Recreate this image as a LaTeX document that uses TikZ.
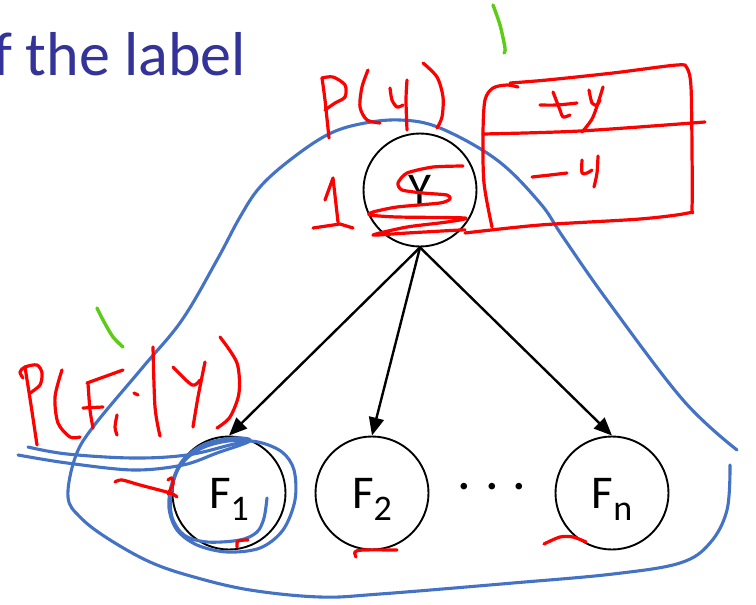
\documentclass[tikz,border=0pt]{standalone}
\usepackage{fontspec}
\setmainfont{Carlito}
\usetikzlibrary{arrows.meta}
\definecolor{titleblue}{RGB}{51,51,153}
\definecolor{inkblue}{RGB}{68,114,196}
\definecolor{inkred}{RGB}{255,0,0}
\definecolor{inkgreen}{RGB}{92,204,20}
\newcommand{\subtxt}[1]{\smash{\raisebox{-12pt}{\fontsize{36}{36}\selectfont #1}}}
\begin{document}
\begin{tikzpicture}[x=1pt,y=-1pt,
  varnode/.style={draw=black, line width=1.9pt, circle, minimum size=113pt, inner sep=0pt, font=\fontsize{47}{47}\selectfont},
  edge/.style={line width=2.4pt, -{Triangle[length=18pt,width=15pt]}},
  redink/.style={draw=inkred, line width=3.2pt, line cap=round, line join=round},
  blueink/.style={draw=inkblue, line width=3.1pt, line cap=round, line join=round},
  greenink/.style={draw=inkgreen, line width=3.4pt, line cap=round, line join=round},
]
\useasboundingbox (0,0) rectangle (756,605);

% slide content
\node[anchor=base east, inner sep=0pt, text=titleblue, font=\fontsize{62}{62}\selectfont] (title) at (246,75) {of the label};
\node[varnode] (Y) at (420,190) {Y};
\node[varnode] (F1) at (229,493) {F\subtxt{1}};
\node[varnode] (F2) at (372,493) {F\subtxt{2}};
\node[varnode] (Fn) at (612,493) {F\subtxt{n}};
\node[inner sep=0pt, font=\fontsize{46}{46}\selectfont] (dots) at (492,491) {·\hspace{16pt}·\hspace{16pt}·};
\draw[edge] (Y.south) -- (F1.north);
\draw[edge] (Y.south) -- (F2.north);
\draw[edge] (Y.south) -- (Fn.north);

% blue ink
\draw[blueink] plot[smooth, tension=0.6] coordinates {(737,450) (683,400) (607,300) (563,237) (540,203) (497,160) (440,128) (400,120) (360,124) (327,135) (290,160) (260,187) (240,217) (217,260) (182,320) (143,367) (93,427) (75,458) (68,497) (80,517) (107,538) (150,562) (194,577) (250,590) (320,597) (380,594) (513,583) (613,574) (680,563) (710,543) (727,510) (730,465)};
\draw[blueink] plot[smooth, tension=0.6] coordinates {(28,447) (67,454) (133,458) (187,455) (230,445) (250,440)};
\draw[blueink] plot[smooth, tension=0.55] coordinates {(18,455) (67,463) (133,470) (183,465) (217,453) (250,441) (235,438) (205,444) (183,460) (172,483) (169,508) (177,530) (197,545) (227,552) (260,548) (283,530) (295,500) (294,470) (282,452) (258,442) (228,441) (200,449) (180,466) (171,492) (172,517) (184,535) (207,542) (240,540) (257,532) (264,518) (267,498)};

% red ink: P(y)
\draw[redink] plot[smooth] coordinates {(322,78) (325,100) (329,138)};
\draw[redink] plot[smooth] coordinates {(322,78) (333,77) (345,85) (345,97) (335,103) (325,110)};
\draw[redink] plot[smooth] coordinates {(368,70) (362,87) (360,107) (367,120) (380,123)};
\draw[redink] plot[smooth] coordinates {(390,88) (392,100) (397,107) (403,105)};
\draw[redink] plot[smooth] coordinates {(407,80) (406,100) (407,130)};
\draw[redink] plot[smooth] coordinates {(423,63) (437,77) (443,97) (442,117) (437,128)};
% "1"
\draw[redink] (325,200) -- (333,178) -- (338,222);
\draw[redink] (313,228) -- (340,224) -- (353,228);
% scribble in Y
\draw[redink] plot[smooth, tension=0.4] coordinates {(463,166) (433,167) (407,173) (398,183) (402,190) (423,193) (447,195) (450,199) (440,203) (397,207) (373,212) (370,215) (397,217) (465,218) (447,222) (407,227) (373,235) (407,233) (460,230) (465,230)};
% table box
\draw[redink] plot[smooth] coordinates {(518,87) (507,85) (493,88) (485,100) (483,133) (484,183) (492,227)};
\draw[redink] plot[smooth, tension=0.5] coordinates {(510,83) (547,80) (613,73) (677,65) (687,68) (691,87) (692,150) (692,207) (688,213) (640,219) (540,225) (465,233)};
\draw[redink] plot[smooth] coordinates {(483,134) (580,131) (705,122)};
\draw[redink] plot[smooth] coordinates {(540,105) (557,105) (577,103)};
\draw[redink] plot[smooth] coordinates {(553,92) (560,110) (563,117) (570,115)};
\draw[redink] plot[smooth] coordinates {(589,90) (592,103) (597,105) (600,100)};
\draw[redink] plot[smooth] coordinates {(603,87) (593,117) (582,132)};
\draw[redink] plot[smooth] coordinates {(532,177) (550,175) (567,173)};
\draw[redink] plot[smooth] coordinates {(582,160) (582,173) (587,173) (592,170)};
\draw[redink] plot[smooth] coordinates {(598,156) (597,173) (594,187)};
% P(Fi|Y)
\draw[redink] plot[smooth] coordinates {(25,367) (31,405) (37,445)};
\draw[redink] plot[smooth] coordinates {(23,378) (20,372) (25,367) (37,365) (42,373) (40,385) (30,393)};
\draw[redink] plot[smooth] coordinates {(62,370) (55,397) (58,423) (70,437) (80,437)};
\draw[redink] plot[smooth] coordinates {(87,383) (123,370)};
\draw[redink] plot[smooth] coordinates {(88,383) (90,410) (93,428)};
\draw[redink] plot[smooth] coordinates {(83,408) (103,407)};
\draw[redink] plot[smooth] coordinates {(117,415) (115,427) (117,435)};
\draw[redink] (134,393) -- (138,395);
\draw[redink] plot[smooth] coordinates {(153,347) (155,407) (160,436)};
\draw[redink] plot[smooth] coordinates {(173,367) (192,385) (200,380)};
\draw[redink] plot[smooth] coordinates {(205,362) (198,397) (193,427)};
\draw[redink] plot[smooth] coordinates {(220,337) (237,363) (239,393) (230,417) (217,428)};
% marks near F nodes
\draw[redink] plot[smooth] coordinates {(115,482) (122,480) (140,485) (170,493) (177,497)};
\draw[redink] plot[smooth] coordinates {(168,480) (172,478) (173,484) (168,494)};
\draw[redink] plot[smooth] coordinates {(237,547) (238,541) (248,540)};
\draw[redink] plot[smooth] coordinates {(356,557) (355,552) (363,550) (397,550)};
\draw[redink] plot[smooth] coordinates {(544,544) (560,537) (573,537) (586,542)};

% green ink
\draw[greenink] plot[smooth] coordinates {(493,5) (500,25) (505,48) (504,53)};
\draw[greenink] plot[smooth] coordinates {(97,308) (103,320) (113,337) (123,347)};
\end{tikzpicture}
\end{document}
